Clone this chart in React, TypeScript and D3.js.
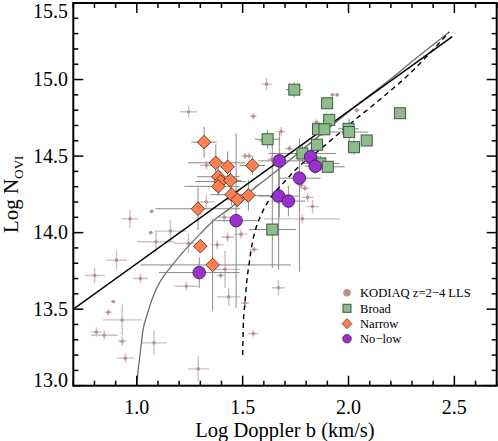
import React from "react";
import * as d3 from "d3";

// KODIAQ z=2-4 LLS : log b, log N and (symmetric) errors
const kodiaqB = [1.245, 1.070, 0.968, 1.329, 1.511, 1.530, 1.328, 1.066, 1.159, 1.091, 1.244, 0.904, 0.801, 1.017, 1.234, 0.889, 0.865, 0.931, 0.809, 0.846, 0.931, 1.081, 0.946, 1.290, 1.380, 1.429, 1.492, 1.417, 1.396, 1.434, 1.511, 1.554, 1.550, 1.669, 1.413, 1.613, 1.924, 1.946, 1.550, 2.039, 1.849, 1.682, 1.595, 1.721, 1.637, 1.813, 1.776, 1.794, 1.807, 1.830, 1.782];
const kodiaqN = [14.79, 14.14, 14.09, 14.44, 14.50, 14.50, 14.20, 14.00, 14.01, 13.94, 13.93, 13.82, 13.72, 13.70, 13.65, 13.55, 13.48, 13.43, 13.35, 13.33, 13.29, 13.28, 13.18, 13.11, 13.92, 13.97, 13.99, 13.76, 13.72, 13.58, 13.54, 13.89, 13.34, 13.64, 14.10, 14.97, 14.90, 14.90, 14.76, 14.80, 14.72, 14.66, 14.60, 14.55, 14.48, 14.46, 14.31, 14.29, 14.23, 14.17, 14.09];
const kodiaqBErr = [0.04, 0.01, 0.04, 0.03, 0.02, 0.02, 0.04, 0.01, 0.075, 0.09, 0.07, 0.05, 0.047, 0.035, 0.055, 0.01, 0.016, 0.09, 0.027, 0.063, 0.02, 0.06, 0.04, 0.05, 0.03, 0.03, 0.03, 0.07, 0.02, 0.055, 0.02, 0.02, 0.025, 0.03, 0.03, 0.025, 0.01, 0.01, 0.015, 0.015, 0.02, 0.02, 0.02, 0.02, 0.02, 0.02, 0.02, 0.02, 0.03, 0.03, 0.18];
const kodiaqNErr = [0.04, 0.01, 0.06, 0.03, 0.02, 0.02, 0.05, 0.01, 0.07, 0.07, 0.065, 0.065, 0.05, 0.03, 0.03, 0.01, 0.02, 0.10, 0.03, 0.03, 0.03, 0.08, 0.03, 0.08, 0.03, 0.03, 0.03, 0.12, 0.02, 0.06, 0.03, 0.02, 0.02, 0.05, 0.03, 0.04, 0.01, 0.01, 0.02, 0.015, 0.02, 0.03, 0.02, 0.02, 0.02, 0.02, 0.02, 0.02, 0.03, 0.045, 0.03];

// Broad : errors as [low, high]
const broadB = [1.744, 1.899, 1.909, 1.856, 1.886, 2.000, 2.003, 2.243, 2.086, 2.026, 1.851, 1.618, 1.782, 1.867, 1.902, 1.640];
const broadN = [14.934, 14.845, 14.737, 14.675, 14.675, 14.678, 14.657, 14.780, 14.602, 14.558, 14.574, 14.610, 14.517, 14.452, 14.430, 14.020];
const broadBErr = [[0.04, 0.04], [0.01, 0.01], [0.02, 0.02], [0.02, 0.02], [0.02, 0.02], [0.05, 0.05], [0.09, 0.09], [0.02, 0.02], [0.02, 0.02], [0.03, 0.03], [0.03, 0.03], [0.06, 0.06], [0.16, 0.16], [0.09, 0.09], [0.08, 0.08], [0.11, 0.11]];
const broadNErr = [[0.05, 0.05], [0.01, 0.01], [0.02, 0.02], [0.04, 0.04], [0.02, 0.02], [0.03, 0.03], [0.09, 0.09], [0.02, 0.02], [0.02, 0.02], [0.05, 0.05], [0.05, 0.05], [0.06, 0.06], [0.06, 0.06], [0.05, 0.05], [0.02, 0.02], [0.25, 0.63]];

// Narrow
const narrowB = [1.318, 1.373, 1.429, 1.385, 1.396, 1.442, 1.385, 1.448, 1.475, 1.527, 1.546, 1.289, 1.300, 1.358];
const narrowN = [14.591, 14.456, 14.430, 14.365, 14.334, 14.341, 14.302, 14.248, 14.215, 14.243, 14.439, 14.156, 13.911, 13.789];
const narrowBErr = [[0.06, 0.06], [0.13, 0.14], [0.03, 0.03], [0.1, 0.1], [0.12, 0.12], [0.05, 0.05], [0.16, 0.1], [0.1, 0.1], [0.05, 0.05], [0.1, 0.1], [0.06, 0.06], [0.2, 0.2], [0.03, 0.03], [0.34, 0.37]];
const narrowNErr = [[0.1, 0.1], [0.12, 0.12], [0.1, 0.1], [0.08, 0.08], [0.05, 0.05], [0.06, 0.06], [0.06, 0.06], [0.07, 0.07], [0.05, 0.05], [0.1, 0.1], [0.06, 0.06], [0.14, 0.14], [0.04, 0.04], [0.3, 0.3]];

// No-low
const nolowB = [1.673, 1.821, 1.843, 1.768, 1.670, 1.716, 1.469, 1.295];
const nolowN = [14.469, 14.495, 14.434, 14.356, 14.239, 14.206, 14.078, 13.739];
const nolowBErr = [[0.1, 0.15], [0.04, 0.04], [0.05, 0.05], [0.1, 0.1], [0.1, 0.1], [0.08, 0.08], [0.1, 0.1], [0.19, 0.19]];
const nolowNErr = [[0.37, 0.19], [0.05, 0.05], [0.05, 0.05], [0.61, 0.26], [0.48, 0.23], [0.1, 0.1], [0.57, 0.57], [0.1, 0.1]];

// model lines
const fitLineB = [0.70, 2.49];
const fitLineN = [13.50, 15.28];
const greyCurveB = [0.999, 1.006, 1.015, 1.029, 1.048, 1.076, 1.110, 1.157, 1.204, 1.298, 1.355, 1.441, 1.502, 1.582, 1.676, 1.771, 1.913, 2.055, 2.196, 2.338, 2.475];
const greyCurveN = [13.00, 13.10, 13.20, 13.36, 13.46, 13.58, 13.68, 13.77, 13.85, 13.99, 14.07, 14.16, 14.23, 14.32, 14.42, 14.53, 14.69, 14.85, 15.00, 15.16, 15.31];
const dashCurveB = [1.500, 1.504, 1.511, 1.520, 1.530, 1.544, 1.563, 1.582, 1.610, 1.643, 1.690, 1.757, 1.880, 2.007, 2.149, 2.290, 2.475];
const dashCurveN = [13.20, 13.43, 13.54, 13.69, 13.79, 13.92, 14.03, 14.10, 14.18, 14.25, 14.32, 14.42, 14.56, 14.71, 14.87, 15.04, 15.31];

const xTickLabels = ["1.0", "1.5", "2.0", "2.5"];
const yTickLabels = ["13.0", "13.5", "14.0", "14.5", "15.0", "15.5"];
const legendLabels = ["KODIAQ z=2\u22124 LLS", "Broad", "Narrow", "No\u2212low"];

export default function App() {
  const svgRef = React.useRef(null);
  const width = 498;
  const height = 441;

  React.useEffect(() => {
    const left = 73.3, right = 496.7, top = 3, bottom = 385.7;
    const xScale = d3.scaleLinear().domain([0.7, 2.7]).range([left, right]);
    const yScale = d3.scaleLinear().domain([13, 15.5]).range([bottom, top]);
    const font = "'Liberation Serif', 'Times New Roman', serif";

    const svg = d3.select(svgRef.current);
    svg.selectAll("*").remove();

    svg.append("defs").append("clipPath").attr("id", "plotclip")
      .append("rect").attr("x", left).attr("y", top)
      .attr("width", right - left).attr("height", bottom - top);

    const plot = svg.append("g").attr("clip-path", "url(#plotclip)");

    // error bars
    const errBars = (g, bs, ns, bErr, nErr, color, sw) => {
      bs.forEach((b, i) => {
        const n = ns[i];
        const be = Array.isArray(bErr[i]) ? bErr[i] : [bErr[i], bErr[i]];
        const ne = Array.isArray(nErr[i]) ? nErr[i] : [nErr[i], nErr[i]];
        g.append("line")
          .attr("x1", xScale(b - be[0])).attr("x2", xScale(b + be[1]))
          .attr("y1", yScale(n)).attr("y2", yScale(n))
          .attr("stroke", color).attr("stroke-width", sw);
        g.append("line")
          .attr("x1", xScale(b)).attr("x2", xScale(b))
          .attr("y1", yScale(n - ne[0])).attr("y2", yScale(n + ne[1]))
          .attr("stroke", color).attr("stroke-width", sw);
      });
    };

    const kErr = plot.append("g");
    errBars(kErr, kodiaqB, kodiaqN, kodiaqBErr, kodiaqNErr, "#cbc2c2", 1.4);
    const sErr = plot.append("g");
    errBars(sErr, broadB, broadN, broadBErr, broadNErr, "#8a8a8a", 1);
    errBars(sErr, narrowB, narrowN, narrowBErr, narrowNErr, "#8a8a8a", 1);
    errBars(sErr, nolowB, nolowN, nolowBErr, nolowNErr, "#8a8a8a", 1);

    plot.append("g").selectAll("circle")
      .data(kodiaqB)
      .enter()
      .append("circle")
      .attr("cx", (d) => xScale(d))
      .attr("cy", (d, i) => yScale(kodiaqN[i]))
      .attr("r", 1.8)
      .attr("fill", "#c08e8e");

    // model lines
    const line = d3.line()
      .x((d) => xScale(d[0]))
      .y((d) => yScale(d[1]));
    const curve = d3.line()
      .x((d) => xScale(d[0]))
      .y((d) => yScale(d[1]))
      .curve(d3.curveMonotoneX);

    plot.append("path")
      .attr("d", curve(greyCurveB.map((b, i) => [b, greyCurveN[i]])))
      .attr("fill", "none").attr("stroke", "#6e6e6e").attr("stroke-width", 1.3);
    plot.append("path")
      .attr("d", curve(dashCurveB.map((b, i) => [b, dashCurveN[i]])))
      .attr("fill", "none").attr("stroke", "#000").attr("stroke-width", 1.4)
      .attr("stroke-dasharray", "5,4");
    plot.append("path")
      .attr("d", line(fitLineB.map((b, i) => [b, fitLineN[i]])))
      .attr("fill", "none").attr("stroke", "#000").attr("stroke-width", 1.5);

    // markers
    const sq = 11;
    plot.append("g").selectAll("rect")
      .data(broadB)
      .enter()
      .append("rect")
      .attr("x", (d) => xScale(d) - sq / 2)
      .attr("y", (d, i) => yScale(broadN[i]) - sq / 2)
      .attr("width", sq).attr("height", sq)
      .attr("fill", "#8fbc8f").attr("stroke", "#3b5e3b").attr("stroke-width", 1);

    const dh = 6.8;
    plot.append("g").selectAll("path")
      .data(narrowB)
      .enter()
      .append("path")
      .attr("d", (d, i) => {
        const cx = xScale(d), cy = yScale(narrowN[i]);
        return `M${cx},${cy - dh}L${cx + dh},${cy}L${cx},${cy + dh}L${cx - dh},${cy}Z`;
      })
      .attr("fill", "#ff7f50").attr("stroke", "#4a2410").attr("stroke-width", 0.8);

    plot.append("g").selectAll("circle")
      .data(nolowB)
      .enter()
      .append("circle")
      .attr("cx", (d) => xScale(d))
      .attr("cy", (d, i) => yScale(nolowN[i]))
      .attr("r", 6.3)
      .attr("fill", "#9932cc").attr("stroke", "#3c1450").attr("stroke-width", 0.8);

    // frame and ticks
    const axes = svg.append("g");
    const isMajor = (v) => Math.abs(v * 2 - Math.round(v * 2)) < 1e-6;
    xScale.ticks(20).forEach((v) => {
      const len = isMajor(v) ? 10 : 5;
      const px = xScale(v);
      axes.append("line").attr("x1", px).attr("x2", px).attr("y1", bottom).attr("y2", bottom - len)
        .attr("stroke", "#000").attr("stroke-width", 1.5);
      axes.append("line").attr("x1", px).attr("x2", px).attr("y1", top).attr("y2", top + len)
        .attr("stroke", "#000").attr("stroke-width", 1.5);
    });
    yScale.ticks(25).forEach((v) => {
      const len = isMajor(v) ? 10 : 5;
      const py = yScale(v);
      axes.append("line").attr("x1", left).attr("x2", left + len).attr("y1", py).attr("y2", py)
        .attr("stroke", "#000").attr("stroke-width", 1.5);
      axes.append("line").attr("x1", right).attr("x2", right - len).attr("y1", py).attr("y2", py)
        .attr("stroke", "#000").attr("stroke-width", 1.5);
    });
    axes.append("rect")
      .attr("x", left).attr("y", top)
      .attr("width", right - left).attr("height", bottom - top)
      .attr("fill", "none").attr("stroke", "#000").attr("stroke-width", 2);

    xTickLabels.forEach((t) => {
      axes.append("text")
        .attr("x", xScale(+t)).attr("y", 414)
        .attr("text-anchor", "middle")
        .style("font-family", font).style("font-size", "20px")
        .text(t);
    });
    yTickLabels.forEach((t) => {
      const py = Math.max(11, Math.min(380, yScale(+t)));
      axes.append("text")
        .attr("x", 68).attr("y", py)
        .attr("dy", "0.34em")
        .attr("text-anchor", "end")
        .style("font-family", font).style("font-size", "20px")
        .text(t);
    });

    axes.append("text")
      .attr("x", 285).attr("y", 437)
      .attr("text-anchor", "middle")
      .style("font-family", font).style("font-size", "20.5px")
      .text("Log Doppler b (km/s)");

    const ylab = axes.append("text")
      .attr("transform", "translate(18,233) rotate(-90)")
      .style("font-family", font).style("font-size", "21px");
    ylab.append("tspan").text("Log N");
    ylab.append("tspan").attr("dy", 5).style("font-size", "13px").text("OVI");

    // legend
    const legY = [292.7, 308.3, 323.7, 338.7];
    const lx = 347;
    const leg = svg.append("g");
    leg.append("circle").attr("cx", lx).attr("cy", legY[0]).attr("r", 3.8).attr("fill", "#c08e8e");
    leg.append("rect").attr("x", lx - 4).attr("y", legY[1] - 4).attr("width", 8).attr("height", 8)
      .attr("fill", "#8fbc8f").attr("stroke", "#3b5e3b").attr("stroke-width", 1);
    leg.append("path")
      .attr("d", `M${lx},${legY[2] - 5}L${lx + 5},${legY[2]}L${lx},${legY[2] + 5}L${lx - 5},${legY[2]}Z`)
      .attr("fill", "#ff7f50").attr("stroke", "#4a2410").attr("stroke-width", 0.7);
    leg.append("circle").attr("cx", lx).attr("cy", legY[3]).attr("r", 4.3)
      .attr("fill", "#9932cc").attr("stroke", "#3c1450").attr("stroke-width", 0.7);
    legendLabels.forEach((t, i) => {
      leg.append("text")
        .attr("x", 360).attr("y", legY[i] + 4.5)
        .style("font-family", font).style("font-size", "12.6px")
        .text(t);
    });
  }, []);

  return (
    <svg ref={svgRef} width={width} height={height}
      style={{ position: "absolute", left: 0, top: 0, background: "#fff" }} />
  );
}
